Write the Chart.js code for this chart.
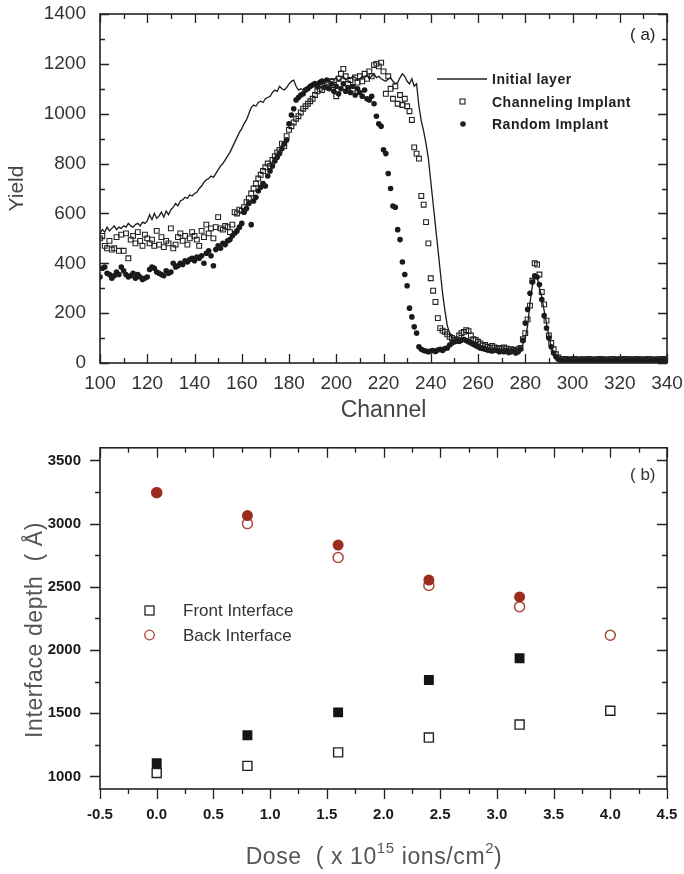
<!DOCTYPE html>
<html>
<head>
<meta charset="utf-8">
<script src="https://cdn.jsdelivr.net/npm/chart.js@4.4.1/dist/chart.umd.min.js"></script>
<style>
html, body { margin: 0; padding: 0; background: #fff; }
#wrapA { position: absolute; left: 0; top: 0; width: 684px; height: 430px; }
#wrapB { position: absolute; left: 0; top: 440px; width: 684px; height: 434px; }
</style>
</head>
<body>
<div id="wrapA"><canvas id="chartA" width="684" height="430"></canvas></div>
<div id="wrapB"><canvas id="chartB" width="684" height="434"></canvas></div>
<script>
// ---- panel (a): RBS spectra, one value per channel starting at channel 100
var firstChannel = 100;
var seriesNamesA = ['Initial layer', 'Channeling Implant', 'Random Implant'];

var initialLayer = [
  520, 535, 525, 545, 530, 540, 550, 535, 545, 540,
  550, 545, 560, 550, 545, 555, 560, 550, 565, 560,
  570, 595, 575, 600, 580, 590, 605, 585, 610, 595,
  615, 625, 640, 630, 650, 655, 665, 660, 675, 670,
  680, 685, 700, 710, 725, 735, 740, 750, 745, 760,
  775, 790, 800, 815, 830, 845, 865, 885, 905, 925,
  940, 960, 975, 1000, 1025, 1035, 1030, 1045, 1050, 1045,
  1060, 1065, 1070, 1085, 1095, 1090, 1110, 1100, 1095, 1105,
  1120, 1130, 1135, 1110, 1095, 1100, 1095, 1105, 1110, 1115,
  1125, 1130, 1120, 1135, 1140, 1125, 1135, 1130, 1140, 1135,
  1145, 1130, 1140, 1150, 1135, 1145, 1140, 1150, 1145, 1135,
  1140, 1150, 1145, 1155, 1140, 1150, 1160, 1145, 1150, 1140,
  1135, 1130, 1140, 1145, 1130, 1120, 1125, 1145, 1160, 1150,
  1130, 1120, 1140, 1110, 1120, 1030, 970, 930, 880, 820,
  730, 640, 550, 460, 370, 280, 210, 150, 120, 100,
  85, 80, 78, 82, 88, 92, 95, 90, 85, 80,
  75, 70, 68, 65, 62, 60, 58, 60, 56, 55,
  54, 55, 52, 50, 52, 50, 48, 50, 55, 75,
  100, 150, 240, 310, 345, 345, 300, 265, 210, 160,
  110, 65, 40, 25, 15, 12, 10, 10, 9, 10,
  10, 9, 10, 10, 9, 10, 10, 9, 10, 10,
  10, 9, 10, 10, 9, 10, 10, 9, 10, 10,
  10, 9, 10, 10, 9, 10, 10, 9, 10, 10,
  10, 9, 10, 10, 9, 10, 10, 9, 10, 10,
  10
];

var channelingImplant = [
  500, 510, 470, 460, 490, 455, 460, 505, 450, 515,
  450, 520, 420, 495, 510, 480, 525, 490, 470, 515,
  500, 480, 495, 470, 530, 475, 505, 465, 490, 480,
  540, 460, 475, 505, 520, 490, 510, 475, 500, 525,
  510, 495, 470, 530, 505, 555, 520, 540, 500, 545,
  585, 540, 535, 550, 545, 525, 555, 605, 600, 615,
  610, 625, 645, 660, 680, 700, 720, 740, 755, 770,
  785, 800, 790, 815, 830, 845, 855, 880, 870, 910,
  935, 950, 965, 980, 990, 1005, 1020, 1030, 1040, 1050,
  1060, 1075, 1090, 1100, 1095, 1110, 1120, 1105, 1130, 1115,
  1070, 1140, 1160, 1180, 1150, 1120, 1135, 1100, 1145, 1125,
  1150, 1130, 1160, 1140, 1170, 1150, 1195, 1200, 1190, 1205,
  1170, 1080, 1150, 1100, 1060, 1110, 1040, 1075, 1035, 1060,
  1030, 1010, 975, 865, 840, 820, 670, 635, 565, 480,
  340, 290, 245, 180, 140, 130, 125, 115, 105, 100,
  92, 95, 110, 120, 125, 132, 128, 110, 95, 92,
  85, 78, 70, 72, 65, 60, 68, 62, 58, 60,
  55, 62, 58, 50, 55, 52, 48, 55, 60, 95,
  120, 175, 230, 330, 400, 395, 355, 285, 235, 170,
  110, 80, 55, 35, 22, 15, 14, 16, 12, 15,
  13, 16, 14, 12, 15, 14, 13, 16, 15, 12,
  14, 16, 13, 15, 14, 12, 15, 16, 14, 13,
  15, 12, 16, 14, 15, 13, 14, 16, 12, 15,
  14, 13, 16, 15, 14, 12, 15, 14, 16, 13,
  15
];

var randomImplant = [
  345, 380, 385, 360, 355, 340, 350, 365, 355, 385,
  370, 355, 345, 350, 360, 340, 355, 345, 335, 340,
  345, 375, 385, 380, 365, 360, 355, 350, 370, 360,
  365, 400, 385, 390, 400, 395, 410, 405, 415, 420,
  410, 425, 420, 430, 400, 440, 450, 430, 390, 455,
  470, 460, 480, 475, 490, 495, 510, 520, 530, 545,
  560, 605, 620, 640, 555, 650, 665, 690, 705, 720,
  710, 750, 770, 790, 810, 825, 840, 860, 880, 895,
  960, 995, 1020, 1055, 1065, 1075, 1080, 1095, 1100, 1110,
  1115, 1120, 1110, 1125, 1130, 1105, 1135, 1100, 1120, 1090,
  1110, 1080, 1100, 1120, 1090, 1105, 1085, 1110, 1075, 1100,
  1085, 1070, 1095, 1060, 1055, 1070, 1040, 990, 960, 950,
  855, 840, 760, 700, 630, 625, 535, 495, 405, 355,
  310, 220, 185, 145, 120, 65, 55, 50, 48, 45,
  48, 50, 46, 52, 55, 50, 58, 60, 72, 80,
  85, 90, 88, 92, 95, 90, 85, 80, 75, 70,
  65, 60, 58, 55, 52, 50, 48, 52, 50, 45,
  48, 45, 50, 42, 45, 48, 40, 45, 55, 90,
  160, 215, 280, 325, 350, 345, 315, 255, 190, 140,
  100, 65, 40, 25, 15, 10, 9, 11, 8, 10,
  9, 11, 10, 8, 9, 10, 11, 9, 10, 8,
  10, 9, 11, 10, 9, 8, 10, 11, 9, 10,
  9, 10, 8, 11, 10, 9, 10, 9, 11, 10,
  8, 10, 9, 11, 10, 9, 10, 8, 10, 9,
  10
];

var channelTicks = [100, 120, 140, 160, 180, 200, 220, 240, 260, 280, 300, 320, 340];
var yieldTicks = [0, 200, 400, 600, 800, 1000, 1200, 1400];

// ---- panel (b): interface depths vs dose
var seriesNamesB = ['Front Interface', 'Back Interface'];
var doses = [0.0, 0.8, 1.6, 2.4, 3.2, 4.0];
var frontOpen = [1027, 1083, 1190, 1307, 1410, 1519];
var frontFilled = [1104, 1325, 1506, 1763, 1935];
var backOpen = [3245, 3000, 2732, 2511, 2343, 2117];
var backFilled = [3246, 3064, 2830, 2553, 2420];
var doseTicks = [-0.5, 0.0, 0.5, 1.0, 1.5, 2.0, 2.5, 3.0, 3.5, 4.0, 4.5];
var depthTicks = [1000, 1500, 2000, 2500, 3000, 3500];

var FONT = '"Liberation Sans", Arial, sans-serif';
Chart.defaults.font.family = FONT;
Chart.defaults.animation = false;

function channelPoints(values) {
  return values.map(function (v, i) { return { x: firstChannel + i, y: v }; });
}
function dosePoints(values) {
  return values.map(function (v, i) { return { x: doses[i], y: v }; });
}
function setTicks(list) {
  return function (scale) { scale.ticks = list.map(function (v) { return { value: v }; }); };
}
function midpoints(list) {
  var out = [];
  for (var i = 1; i < list.length; i++) out.push((list[i - 1] + list[i]) / 2);
  return out;
}
function plain(v) { return String(v); }
// fixed axis size, and no label overflow padding (layout.padding places the plot)
function fixSize(w, h) {
  return function (s) {
    if (w) s.width = w;
    if (h) s.height = h;
    s.paddingTop = s.paddingBottom = s.paddingLeft = s.paddingRight = 0;
  };
}

// frame + tick marks on all four sides (Origin style)
var framePlugin = {
  id: 'frame',
  afterDraw: function (chart, args, opts) {
    var ctx = chart.ctx, a = chart.chartArea;
    var xs = chart.scales.x, ys = chart.scales.y;
    ctx.save();
    ctx.strokeStyle = '#222';
    ctx.lineWidth = 1.6;
    ctx.strokeRect(a.left, a.top, a.right - a.left, a.bottom - a.top);
    ctx.lineWidth = 1.3;
    ctx.beginPath();
    function xTicks(vals, len) {
      vals.forEach(function (v) {
        var px = Math.round(xs.getPixelForValue(v)) + 0.5;
        var db = opts.bottomOut ? len : -len;
        ctx.moveTo(px, a.bottom); ctx.lineTo(px, a.bottom + db);
        ctx.moveTo(px, a.top); ctx.lineTo(px, a.top + len);
      });
    }
    function yTicks(vals, len) {
      vals.forEach(function (v) {
        var py = Math.round(ys.getPixelForValue(v)) + 0.5;
        var dl = opts.leftOut ? -len : len;
        ctx.moveTo(a.left, py); ctx.lineTo(a.left + dl, py);
        ctx.moveTo(a.right, py); ctx.lineTo(a.right - len, py);
      });
    }
    xTicks(opts.xMajor, opts.major);
    xTicks(midpoints(opts.xMajor), opts.minor);
    yTicks(opts.yMajor, opts.major);
    yTicks(midpoints(opts.yMajor), opts.minor);
    ctx.stroke();
    if (opts.extra) opts.extra(ctx, chart);
    ctx.restore();
  }
};

function drawLegendA(ctx) {
  ctx.fillStyle = '#222';
  ctx.strokeStyle = '#222';
  ctx.font = 'bold 14px ' + FONT;
  ctx.letterSpacing = '0.5px';
  ctx.textBaseline = 'middle';
  ctx.textAlign = 'left';
  ctx.lineWidth = 1.3;
  ctx.beginPath(); ctx.moveTo(437, 79); ctx.lineTo(487, 79); ctx.stroke();
  ctx.fillText(seriesNamesA[0], 492, 80);
  ctx.lineWidth = 1.1;
  ctx.strokeRect(460, 99, 5, 5);
  ctx.fillText(seriesNamesA[1], 492, 103);
  ctx.beginPath(); ctx.arc(463, 124, 2.8, 0, Math.PI * 2); ctx.fill();
  ctx.fillText(seriesNamesA[2], 492, 125);
  ctx.letterSpacing = '0px';
  ctx.font = '17px ' + FONT;
  ctx.fillText('( a)', 630, 35);
}

function drawDecorB(ctx) {
  ctx.textBaseline = 'middle';
  ctx.textAlign = 'left';
  // legend
  ctx.lineWidth = 1.3;
  ctx.strokeStyle = '#222';
  ctx.strokeRect(145, 166, 9, 9);
  ctx.strokeStyle = '#a84a3a';
  ctx.beginPath(); ctx.arc(149.5, 195, 4.8, 0, Math.PI * 2); ctx.stroke();
  ctx.fillStyle = '#333';
  ctx.font = '17px ' + FONT;
  ctx.fillText(seriesNamesB[0], 183, 171);
  ctx.fillText(seriesNamesB[1], 183, 196);
  ctx.fillText('( b)', 630, 35);
  // axis titles
  ctx.fillStyle = '#555';
  ctx.letterSpacing = '0.6px';
  ctx.save();
  ctx.translate(36, 190);
  ctx.rotate(-Math.PI / 2);
  ctx.textAlign = 'center';
  ctx.font = '23px ' + FONT;
  ctx.fillText('Interface depth  ( \u00c5)', 0, 0);
  ctx.restore();
  var parts = [['Dose  ( x 10', 23, 0], ['15', 15, -9], [' ions/cm', 23, 0], ['2', 15, -9], [')', 23, 0]];
  var total = 0;
  parts.forEach(function (p) { ctx.font = p[1] + 'px ' + FONT; total += ctx.measureText(p[0]).width; });
  var x = 374 - total / 2;
  parts.forEach(function (p) {
    ctx.font = p[1] + 'px ' + FONT;
    ctx.fillText(p[0], x, 418 + p[2]);
    x += ctx.measureText(p[0]).width;
  });
  ctx.letterSpacing = '0px';
}

new Chart(document.getElementById('chartA'), {
  type: 'scatter',
  data: {
    datasets: [
      {
        label: seriesNamesA[0],
        data: channelPoints(initialLayer),
        showLine: true,
        borderColor: '#1a1a1a',
        borderWidth: 1.3,
        pointRadius: 0,
        tension: 0
      },
      {
        label: seriesNamesA[1],
        data: channelPoints(channelingImplant),
        pointStyle: 'rect',
        pointRadius: 3.4,
        borderWidth: 1.1,
        borderColor: '#222',
        backgroundColor: 'rgba(255,255,255,0)'
      },
      {
        label: seriesNamesA[2],
        data: channelPoints(randomImplant),
        pointStyle: 'circle',
        pointRadius: 2.8,
        borderWidth: 0,
        backgroundColor: '#1a1a1a'
      }
    ]
  },
  options: {
    responsive: false,
    layout: { padding: { top: 14, right: 17, left: 0, bottom: 0 } },
    plugins: {
      legend: { display: false },
      tooltip: { enabled: false },
      frame: { xMajor: channelTicks, yMajor: yieldTicks, major: 9, minor: 5, bottomOut: false, leftOut: false, extra: drawLegendA }
    },
    scales: {
      x: {
        type: 'linear', min: 100, max: 340,
        afterBuildTicks: setTicks(channelTicks),
        afterFit: fixSize(0, 67),
        grid: { display: false, drawTicks: false },
        border: { display: false },
        ticks: { color: '#333', font: { size: 19 }, padding: 9, maxRotation: 0, autoSkip: false, callback: plain },
        title: { display: true, text: 'Channel', color: '#444', font: { size: 23 }, padding: { top: 0, bottom: 6 } }
      },
      y: {
        type: 'linear', min: 0, max: 1400,
        afterBuildTicks: setTicks(yieldTicks),
        afterFit: fixSize(100, 0),
        grid: { display: false, drawTicks: false },
        border: { display: false },
        ticks: { color: '#333', font: { size: 19 }, padding: 14, callback: plain },
        title: { display: true, text: 'Yield', color: '#444', font: { size: 21 }, padding: { top: 5, bottom: 0 } }
      }
    }
  },
  plugins: [framePlugin]
});

new Chart(document.getElementById('chartB'), {
  type: 'scatter',
  data: {
    datasets: [
      {
        label: seriesNamesB[1] + ' (filled)',
        data: dosePoints(backFilled),
        pointStyle: 'circle', pointRadius: 5.5, borderWidth: 0,
        backgroundColor: '#9c2d1d', order: 0
      },
      {
        label: seriesNamesB[1],
        data: dosePoints(backOpen),
        pointStyle: 'circle', pointRadius: 5, borderWidth: 1.5,
        borderColor: '#a84a3a', backgroundColor: 'rgba(255,255,255,0)', order: 1
      },
      {
        label: seriesNamesB[0] + ' (filled)',
        data: dosePoints(frontFilled),
        pointStyle: 'rect', pointRadius: 7, borderWidth: 0,
        backgroundColor: '#151515', order: 2
      },
      {
        label: seriesNamesB[0],
        data: dosePoints(frontOpen),
        pointStyle: 'rect', pointRadius: 6.4, borderWidth: 1.4,
        borderColor: '#222', backgroundColor: 'rgba(255,255,255,0)', order: 3
      }
    ]
  },
  options: {
    responsive: false,
    layout: { padding: { top: 3, right: 17, left: 0, bottom: 0 } },
    plugins: {
      legend: { display: false },
      tooltip: { enabled: false },
      frame: { xMajor: doseTicks, yMajor: depthTicks, major: 10, minor: 5, bottomOut: true, leftOut: true, extra: drawDecorB }
    },
    scales: {
      x: {
        type: 'linear', min: -0.5, max: 4.5,
        afterBuildTicks: setTicks(doseTicks),
        afterFit: fixSize(0, 85),
        grid: { display: false, drawTicks: false },
        border: { display: false },
        ticks: { color: '#1a1a1a', font: { size: 15, weight: 'bold' }, padding: 17, maxRotation: 0, autoSkip: false,
          callback: function (v) { return Number(v).toFixed(1); } }
      },
      y: {
        type: 'linear', min: 900, max: 3600,
        afterBuildTicks: setTicks(depthTicks),
        afterFit: fixSize(100, 0),
        grid: { display: false, drawTicks: false },
        border: { display: false },
        ticks: { color: '#1a1a1a', font: { size: 15, weight: 'bold' }, padding: 19, callback: plain }
      }
    }
  },
  plugins: [framePlugin]
});
</script>
</body>
</html>
